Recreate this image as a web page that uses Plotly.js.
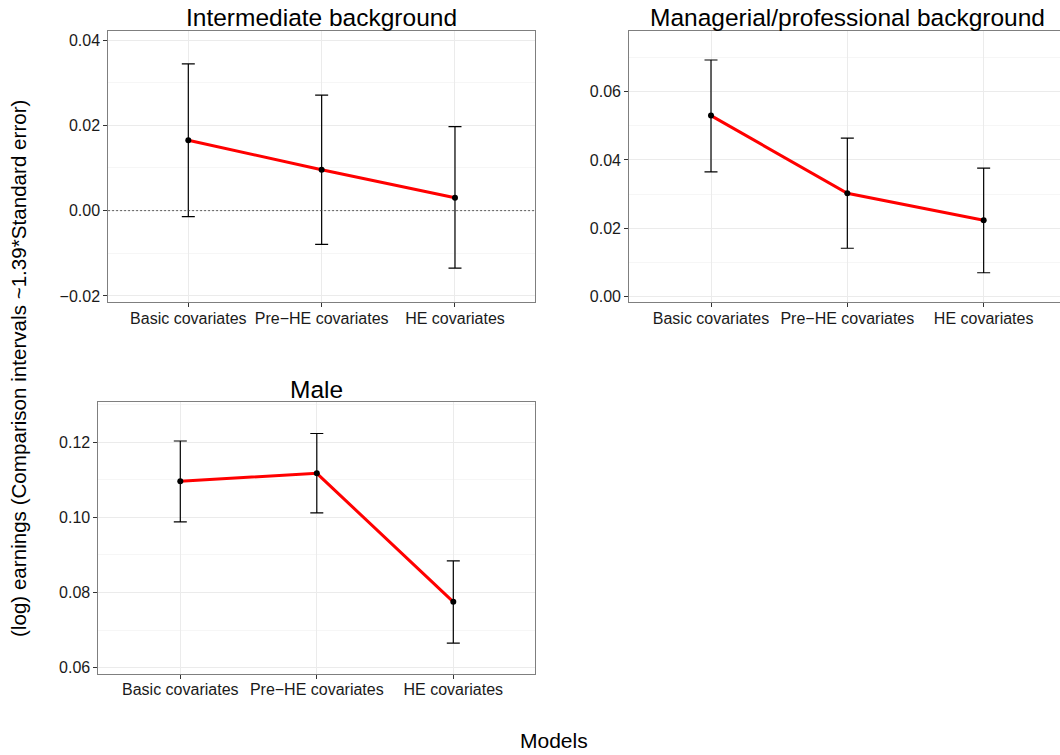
<!DOCTYPE html>
<html>
<head>
<meta charset="utf-8">
<script src="https://cdn.plot.ly/plotly-3.0.1.min.js"></script>
<style>html,body{margin:0;padding:0;background:#fff;}#chart{width:1060px;height:755px;}</style>
</head>
<body>
<div id="chart"></div>
<script>
// ---- data ----
const categories = ['Basic covariates', 'Pre\u2212HE covariates', 'HE covariates'];
const panelTitles = ['Intermediate background', 'Managerial/professional background', 'Male'];

const interEst = [0.0165, 0.0096, 0.0030];
const interLo  = [-0.0014, -0.0079, -0.0135];
const interHi  = [0.0344, 0.0271, 0.0197];

const mgrEst = [0.0530, 0.0302, 0.0223];
const mgrLo  = [0.0365, 0.0141, 0.0069];
const mgrHi  = [0.0693, 0.0464, 0.0376];

const maleEst = [0.1096, 0.1117, 0.0775];
const maleLo  = [0.0988, 0.1012, 0.0665];
const maleHi  = [0.1203, 0.1223, 0.0884];

const yTitle = '(log) earnings (Comparison intervals ~1.39*Standard error)';
const xTitle = 'Models';

// ---- layout helpers ----
const W = 1060, H = 755;
const px = v => v / W;
const py = v => 1 - v / H;
const FONT = 'Liberation Sans, Arial, Helvetica, sans-serif';

function traces(est, lo, hi, xa, ya) {
  return [
    {x: categories, y: est, xaxis: xa, yaxis: ya, type: 'scatter', mode: 'lines',
     line: {color: '#ff0000', width: 3}, hoverinfo: 'skip', showlegend: false},
    {x: categories, y: est, xaxis: xa, yaxis: ya, type: 'scatter', mode: 'markers',
     marker: {color: '#000', size: 6},
     error_y: {type: 'data', symmetric: false,
               array: hi.map((h, i) => h - est[i]),
               arrayminus: est.map((e, i) => e - lo[i]),
               color: '#000', thickness: 1.2, width: 6.5},
     showlegend: false}
  ];
}

const data = [
  ...traces(interEst, interLo, interHi, 'x', 'y'),
  ...traces(mgrEst, mgrLo, mgrHi, 'x2', 'y2'),
  ...traces(maleEst, maleLo, maleHi, 'x3', 'y3')
];

function xax(domain, range, mirrorTop) {
  return {
    domain: domain, type: 'category', range: range,
    showgrid: true, gridcolor: '#ebebeb', gridwidth: 1,
    showline: true, linecolor: '#7f7f7f', linewidth: 1, mirror: mirrorTop,
    ticks: 'outside', ticklen: 4, tickcolor: '#333', tickwidth: 1,
    ticklabelstandoff: -3,
    tickfont: {family: FONT, size: 16, color: '#1a1a1a'},
    zeroline: false, fixedrange: true
  };
}
function yax(domain, range, mirror, anchor) {
  return {
    domain: domain, range: range, anchor: anchor,
    tickmode: 'linear', tick0: 0, dtick: 0.02, tickformat: '.2f',
    showgrid: true, gridcolor: '#ebebeb', gridwidth: 1,
    minor: {tickmode: 'linear', tick0: 0, dtick: 0.01, showgrid: true, gridcolor: '#f6f6f6', ticks: ''},
    showline: true, linecolor: '#7f7f7f', linewidth: 1, mirror: mirror,
    ticks: 'outside', ticklen: 4, tickcolor: '#333', tickwidth: 1,
    tickfont: {family: FONT, size: 16, color: '#1a1a1a'},
    zeroline: false, fixedrange: true
  };
}

const layout = {
  width: W, height: H,
  margin: {l: 0, r: 0, t: 0, b: 0},
  paper_bgcolor: '#fff', plot_bgcolor: '#fff',
  showlegend: false,
  font: {family: FONT, color: '#000'},
  xaxis:  Object.assign(xax([px(108.3), px(535)], [-0.6, 2.6], true), {anchor: 'y'}),
  yaxis:  yax([py(302.3), py(30.7)], [-0.0215, 0.0422], true, 'x'),
  xaxis2: Object.assign(xax([px(629.2), 1], [-0.6, 2.56], true), {anchor: 'y2'}),
  yaxis2: yax([py(302.3), py(30.7)], [-0.00176, 0.0779], false, 'x2'),
  xaxis3: Object.assign(xax([px(98.4), px(535.2)], [-0.6, 2.6], true), {anchor: 'y3'}),
  yaxis3: yax([py(674), py(402.3)], [0.0583, 0.1306], true, 'x3'),
  shapes: [
    {type: 'line', xref: 'x domain', yref: 'y', x0: 0, x1: 1, y0: 0, y1: 0,
     line: {color: '#333', width: 1, dash: '1.5px,2.5px'}, layer: 'above'}
  ],
  annotations: [
    {text: panelTitles[0], xref: 'paper', yref: 'paper', x: px(321.7), y: py(17.5),
     xanchor: 'center', yanchor: 'middle', showarrow: false, font: {family: FONT, size: 24.5, color: '#000'}},
    {text: panelTitles[1], xref: 'paper', yref: 'paper', x: px(847.3), y: py(17.5),
     xanchor: 'center', yanchor: 'middle', showarrow: false, font: {family: FONT, size: 24.5, color: '#000'}},
    {text: panelTitles[2], xref: 'paper', yref: 'paper', x: px(316.8), y: py(389.5),
     xanchor: 'center', yanchor: 'middle', showarrow: false, font: {family: FONT, size: 24.5, color: '#000'}},
    {text: yTitle, xref: 'paper', yref: 'paper', x: px(18), y: py(369), textangle: -90,
     xanchor: 'center', yanchor: 'middle', showarrow: false, font: {family: FONT, size: 20.6, color: '#000'}},
    {text: xTitle, xref: 'paper', yref: 'paper', x: px(554), y: py(740), 
     xanchor: 'center', yanchor: 'middle', showarrow: false, font: {family: FONT, size: 21, color: '#000'}}
  ]
};

Plotly.newPlot('chart', data, layout, {displayModeBar: false, staticPlot: true});
</script>
</body>
</html>
